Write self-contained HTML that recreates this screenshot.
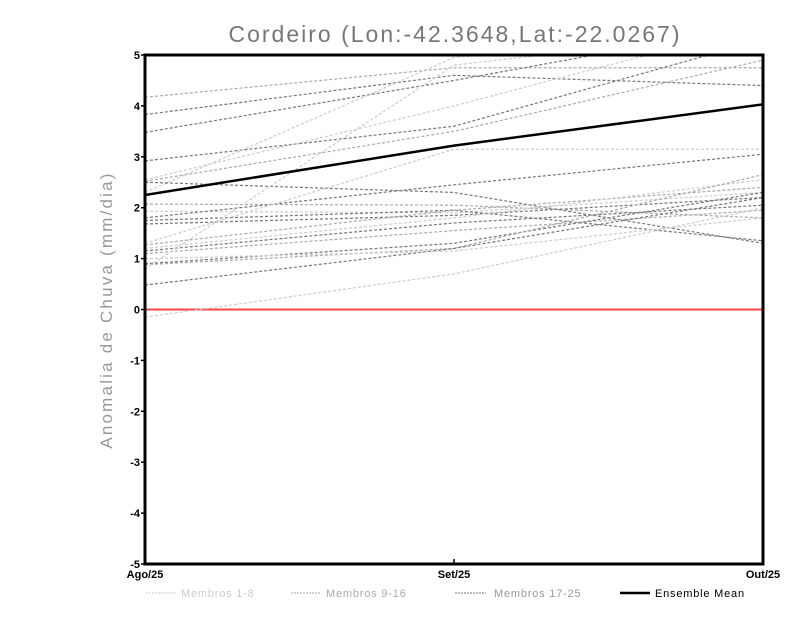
<!DOCTYPE html>
<html><head><meta charset="utf-8"><style>
body{margin:0;background:#fff;}
svg{display:block;font-family:"Liberation Sans",sans-serif;}
</style></head><body>
<svg id="c" width="800" height="618">
<text x="455" y="42" text-anchor="middle" font-size="23" fill="#777" letter-spacing="2">Cordeiro (Lon:-42.3648,Lat:-22.0267)</text>
<text transform="translate(112,310) rotate(-90)" text-anchor="middle" font-size="17" fill="#999" letter-spacing="2.2">Anomalia de Chuva (mm/dia)</text>
<defs><clipPath id="pc"><rect x="145" y="55" width="618" height="509"/></clipPath></defs>
<g id="series" clip-path="url(#pc)"></g>
<g id="axes"></g>
<g id="legend" font-size="11" letter-spacing="0.8">
<g><line x1="146" y1="593" x2="176" y2="593" stroke="#ccc" stroke-dasharray="2,1"/><text x="181" y="597" fill="#ccc">Membros 1-8</text></g>
<g><line x1="291" y1="593" x2="321" y2="593" stroke="#aaa" stroke-dasharray="2,1"/><text x="326" y="597" fill="#aaa">Membros 9-16</text></g>
<g><line x1="455" y1="593" x2="486" y2="593" stroke="#777" stroke-dasharray="2,1"/><text x="494" y="597" fill="#999">Membros 17-25</text></g>
<g><line x1="620" y1="593" x2="650" y2="593" stroke="#000" stroke-width="2.5"/><text x="655" y="597" fill="#000">Ensemble Mean</text></g>
</g>
</svg>
<script>
const categories=["Ago/25","Set/25","Out/25"];
const yTicks=[-5,-4,-3,-2,-1,0,1,2,3,4,5];
const meanValues=[2.25,3.22,4.03];
const members=[
[4.17,4.75,4.75],[3.83,4.6,4.4],[3.48,4.5,5.6],[2.92,3.6,5.3],[2.55,4.0,5.6],
[2.3,4.95,5.5],[2.52,3.5,4.9],[2.5,2.3,1.3],[2.07,2.05,1.8],[1.93,1.9,2.3],
[1.8,2.45,3.05],[1.75,1.95,1.35],[1.68,1.85,2.2],[1.3,3.15,3.15],[1.27,1.95,2.4],
[1.2,1.8,2.55],[1.15,1.7,2.05],[1.1,1.55,1.95],[0.9,1.3,2.3],[0.88,1.2,2.65],
[0.8,4.8,5.5],[0.48,1.2,2.2],[-0.15,0.7,2.0],[1.0,1.15,1.8]
];
const memberGroup=[1,2,2,2,0,0,1,2,1,0,2,2,2,0,1,0,2,1,2,1,0,2,0,0];
const groupColors=["#ccc","#aaa","#777"];
const NS="http://www.w3.org/2000/svg";
const X0=145,X1=763,Y0=564,Y1=55;
const xs=i=>X0+(X1-X0)*i/(categories.length-1);
const ys=v=>Y0-(v+5)/10*(Y0-Y1);
function mk(t,a,p){const e=document.createElementNS(NS,t);for(const k in a)e.setAttribute(k,a[k]);p.appendChild(e);return e;}
const S=document.getElementById('series'),A=document.getElementById('axes');
const zl=mk('line',{x1:X0,x2:X1,y1:ys(0),y2:ys(0),stroke:'#f44','stroke-width':2},S);


members.forEach((m,k)=>{
 const p=mk('polyline',{points:m.map((v,i)=>xs(i)+','+ys(v)).join(' '),fill:'none',stroke:groupColors[memberGroup[k]],'stroke-width':1.2,'stroke-dasharray':'3,2'},S);
 
 
});
const ml=mk('polyline',{points:meanValues.map((v,i)=>xs(i)+','+ys(v)).join(' '),fill:'none',stroke:'#000','stroke-width':2.5},S);


const fr=mk('rect',{x:X0,y:Y1,width:X1-X0,height:Y0-Y1,fill:'none',stroke:'#000','stroke-width':3},A);


yTicks.forEach(v=>{
 mk('line',{x1:X0-4,x2:X0,y1:ys(v),y2:ys(v),stroke:'#000','stroke-width':1.5},A);
 const t=mk('text',{x:X0-5,y:ys(v)+4,'text-anchor':'end','font-size':11,'font-weight':'bold'},A);
 t.textContent=v;
 
 
});
categories.forEach((c,i)=>{
 mk('line',{x1:xs(i),x2:xs(i),y1:Y0,y2:Y0-5,stroke:'#000','stroke-width':1.5},A);
 const t=mk('text',{x:xs(i),y:Y0+14,'text-anchor':'middle','font-size':11,'font-weight':'bold'},A);
 t.textContent=c;
 
 
});
</script>
</body></html>
